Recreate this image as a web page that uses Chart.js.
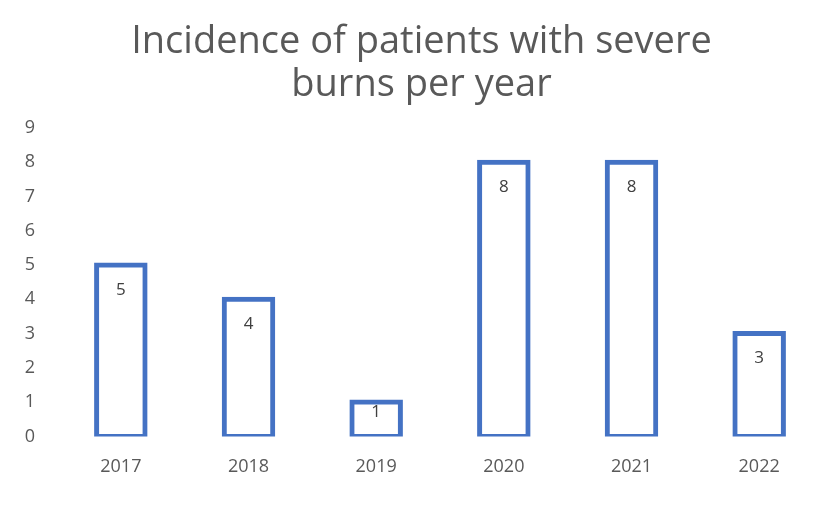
<!DOCTYPE html>
<html>
<head>
<meta charset="utf-8">
<script src="https://cdn.jsdelivr.net/npm/chart.js@4.4.1/dist/chart.umd.min.js"></script>
<style>
  html, body { margin: 0; padding: 0; background: #fff; overflow: hidden; }
  #wrap { position: absolute; left: 0; top: 0; width: 843px; height: 511px; }
</style>
</head>
<body>
<div id="wrap"><canvas id="c"></canvas></div>
<script>
const titleLines = ["Incidence of patients with severe", "burns per year"];
const years = ["2017", "2018", "2019", "2020", "2021", "2022"];
const patients = [5, 4, 1, 8, 8, 3];
const yMin = 0;
const yMax = 9;
const yStep = 1;

const valueLabels = {
  id: 'valueLabels',
  afterDatasetsDraw(chart) {
    const ctx = chart.ctx;
    const meta = chart.getDatasetMeta(0);
    ctx.save();
    ctx.font = '17px "Open Sans"';
    ctx.fillStyle = '#404040';
    ctx.textAlign = 'center';
    ctx.textBaseline = 'middle';
    meta.data.forEach((bar, i) => {
      const y = Math.min(bar.y + 25, bar.base - 24);
      ctx.fillText(String(chart.data.datasets[0].data[i]), bar.x, y);
    });
    ctx.restore();
  }
};

new Chart(document.getElementById('c'), {
  type: 'bar',
  data: {
    labels: years,
    datasets: [{
      data: patients,
      backgroundColor: '#ffffff',
      borderColor: '#4472C4',
      borderWidth: 5,
      borderSkipped: false,
      inflateAmount: 2.5,
      barPercentage: 0.38,
      categoryPercentage: 1.0
    }]
  },
  options: {
    responsive: true,
    maintainAspectRatio: false,
    animation: false,
    layout: { padding: { left: 20, right: 20, top: 0, bottom: 13 } },
    plugins: {
      legend: { display: false },
      tooltip: { enabled: false },
      title: {
        display: true,
        text: titleLines,
        color: '#595959',
        font: { family: '"Open Sans"', size: 38, weight: 'normal', lineHeight: 1.13 },
        padding: { top: 21, bottom: 21 }
      }
    },
    scales: {
      x: {
        grid: { display: false, drawTicks: false },
        border: { display: false },
        ticks: { color: '#595959', font: { family: '"Open Sans"', size: 18 }, padding: 20 }
      },
      y: {
        min: yMin,
        max: yMax,
        grid: { display: false, drawTicks: false },
        border: { display: false },
        ticks: { stepSize: yStep, color: '#595959', font: { family: '"Open Sans"', size: 18 }, padding: 22 },
        afterFit(scale) { scale.width = 37; }
      }
    }
  },
  plugins: [valueLabels]
});
</script>
</body>
</html>
